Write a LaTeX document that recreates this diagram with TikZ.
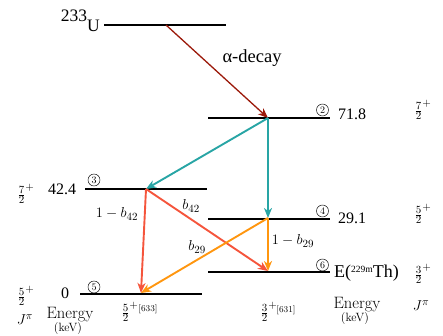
\documentclass[tikz,border=0pt]{standalone}
\usepackage{fontspec}
\usetikzlibrary{arrows.meta}
\newfontfamily\tnr{Liberation Serif}
\definecolor{alphared}{RGB}{155,25,10}
\definecolor{tealc}{RGB}{40,165,165}
\definecolor{redc}{RGB}{245,85,60}
\definecolor{orangec}{RGB}{255,150,15}
\begin{document}
\begin{tikzpicture}[x=1pt,y=-1pt,
  lvl/.style={line width=2.4pt,black},
  arr/.style={line width=1.9pt,-{Stealth[length=10pt,width=8pt,inset=3pt]}},
  num/.style={font=\fontsize{16}{16}\selectfont\tnr,inner sep=0pt},
  circ/.style={circle,draw,line width=0.45pt,minimum size=12pt,inner sep=0pt,font=\fontsize{10}{10}\selectfont},
  jp/.style={font=\fontsize{15}{15}\selectfont,inner sep=0pt},
  lab/.style={font=\fontsize{15}{15}\selectfont,inner sep=0pt},
  en/.style={font=\fontsize{16.5}{16.5}\selectfont,inner sep=0pt},
  kev/.style={font=\fontsize{12}{12}\selectfont,inner sep=0pt},
  orb/.style={font=\fontsize{9}{9}\selectfont,inner sep=0pt}]
\useasboundingbox (0,0) rectangle (443,336);
% level end points
\coordinate (u1) at (104,25); \coordinate (u2) at (226,25);
\coordinate (l2a) at (208,118); \coordinate (l2b) at (330,118);
\coordinate (l3a) at (85,189); \coordinate (l3b) at (207,189);
\coordinate (l4a) at (208,219); \coordinate (l4b) at (330,219);
\coordinate (l6a) at (208,272); \coordinate (l6b) at (330,272);
\coordinate (l5a) at (80,294); \coordinate (l5b) at (202,294);
\draw[lvl] (u1) -- (u2);
\draw[lvl] (l2a) -- (l2b);
\draw[lvl] (l3a) -- (l3b);
\draw[lvl] (l4a) -- (l4b);
\draw[lvl] (l6a) -- (l6b);
\draw[lvl] (l5a) -- (l5b);
% transition points
\coordinate (pu) at (166,25);
\coordinate (p2) at (268,118);
\coordinate (p3) at (146,189);
\coordinate (p4) at (268,218);
\coordinate (p6) at (268,271);
\coordinate (p5) at (141,293);
\draw[arr,alphared,line width=1.3pt] (pu) -- (p2);
\draw[arr,tealc] (p2) -- (p3);
\draw[arr,tealc] (p2) -- (p4);
\draw[arr,redc] (p3) -- (p5);
\draw[arr,redc] (p3) -- (p6);
\draw[arr,orangec] (p4) -- (p5);
\draw[arr,orangec] (p4) -- (p6);
% labels
\node[num,font=\fontsize{17.5}{17.5}\selectfont\tnr,anchor=base east] (tU) at (100,32) {\raisebox{10pt}{233}U};
\node[num,font=\fontsize{18.5}{18.5}\selectfont\tnr] (tal) at (252,58) {α-decay};
\node[circ] (c2) at (322.5,110) {2};
\node[num,anchor=base west] (e2) at (338,120) {71.8};
\node[jp] (j2) at (423,110) {$\frac{7}{2}^{+}$};
\node[circ] (c3) at (94,180) {3};
\node[num,anchor=base west] (e3) at (48,195) {42.4};
\node[jp] (j3) at (26,194) {$\frac{7}{2}^{+}$};
\node[lab] (b42a) at (117,214) {$1-b_{42}$};
\node[lab] (b42b) at (191,206) {$b_{42}$};
\node[circ] (c4) at (322.5,211) {4};
\node[num,anchor=base west] (e4) at (338,223) {29.1};
\node[jp] (j4) at (423,214) {$\frac{5}{2}^{+}$};
\node[lab] (b29a) at (293,241) {$1-b_{29}$};
\node[lab] (b29b) at (197,247) {$b_{29}$};
\node[circ] (c6) at (322.5,265) {6};
\node[en,font=\fontsize{18}{18}\selectfont\tnr,anchor=base west] (e6) at (334,277) {E(\raisebox{4.5pt}{\fontsize{9.5}{9.5}\selectfont\tnr 229m}Th)};
\node[jp] (j6) at (423,274) {$\frac{3}{2}^{+}$};
\node[circ] (c5) at (94,287) {5};
\node[num,anchor=base west] (e5) at (61,298) {0};
\node[jp] (j5) at (26,296) {$\frac{5}{2}^{+}$};
\node[jp] (jl) at (25,320) {$J^{\pi}$};
\node[en] (enl) at (70,315) {Energy};
\node[kev] (kl) at (68,329) {(keV)};
\node[jp] (n633) at (130,312) {$\frac{5}{2}^{+}$};
\node[orb] (t633) at (148,309) {[633]};
\node[jp] (n631) at (269,312) {$\frac{3}{2}^{+}$};
\node[orb] (t631) at (286,310) {[631]};
\node[en] (enr) at (357,305) {Energy};
\node[kev] (kr) at (355,319) {(keV)};
\node[jp] (jr) at (421,306) {$J^{\pi}$};
\end{tikzpicture}
\end{document}
